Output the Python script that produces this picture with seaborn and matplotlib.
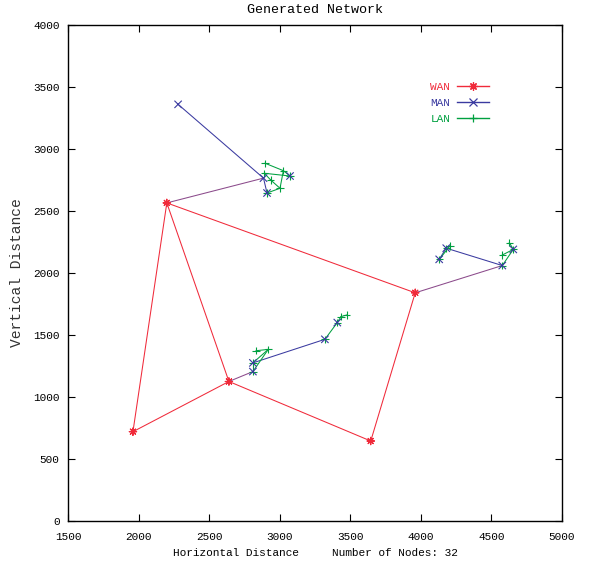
import pandas as pd
import seaborn as sns
import matplotlib
matplotlib.use("Agg")
import matplotlib.pyplot as plt
from matplotlib.lines import Line2D

# node positions
wan_x = [2200, 1960, 2640, 3645, 3960]
wan_y = [2565, 720, 1125, 645, 1840]
wan_edges = [(0, 1), (1, 2), (2, 0), (0, 4), (4, 3), (3, 2)]

man_x = [2280, 2885, 2910, 3073, 4180, 4130, 4577, 4655, 2810, 2810, 3320, 3408]
man_y = [3360, 2765, 2645, 2782, 2200, 2110, 2060, 2190, 1275, 1205, 1465, 1600]
man_edges = [(0, 1), (1, 2), (4, 6), (4, 5), (8, 10), (8, 9)]

# wan node -> man node links (drawn purple)
link_edges = [(0, 1), (4, 6), (2, 9)]

lan_x = [2896, 3026, 2891, 2936, 3002, 3073, 2910,
         4206, 4131, 4180, 4577, 4627, 4655, 4577,
         2832, 2919, 2810, 2810, 3320, 3408, 3434, 3474]
lan_y = [2885, 2825, 2804, 2750, 2683, 2782, 2645,
         2218, 2110, 2200, 2145, 2245, 2190, 2060,
         1373, 1384, 1275, 1205, 1465, 1600, 1648, 1661]
lan_edges = [(0, 1), (1, 4), (1, 5), (2, 5), (2, 3), (3, 4), (4, 6),
             (8, 7), (13, 12), (10, 12), (11, 12),
             (14, 15), (15, 16), (15, 17), (18, 19), (19, 20), (20, 21)]

colors = {"WAN": "#f02a3a", "MAN": "#3a3aa0", "LAN": "#00a040", "link": "#8b4a8b"}

plt.rcParams["font.family"] = ["Liberation Mono", "DejaVu Sans Mono"]
plt.rcParams["font.size"] = 8


def segments(xa, ya, edges, net, xb=None, yb=None):
    xb = xa if xb is None else xb
    yb = ya if yb is None else yb
    rows = []
    for k, (i, j) in enumerate(edges):
        rows.append({"x": xa[i], "y": ya[i], "seg": f"{net}{k}", "net": net})
        rows.append({"x": xb[j], "y": yb[j], "seg": f"{net}{k}", "net": net})
    return rows


seg = pd.DataFrame(segments(wan_x, wan_y, wan_edges, "WAN")
                   + segments(man_x, man_y, man_edges, "MAN")
                   + segments(lan_x, lan_y, lan_edges, "LAN")
                   + segments(wan_x, wan_y, link_edges, "link", man_x, man_y))

nodes = pd.concat([
    pd.DataFrame({"x": lan_x, "y": lan_y, "net": "LAN"}),
    pd.DataFrame({"x": man_x, "y": man_y, "net": "MAN"}),
    pd.DataFrame({"x": wan_x, "y": wan_y, "net": "WAN"}),
])

fig = plt.figure(figsize=(5.9, 5.65), dpi=100)
ax = fig.add_axes([0.1153, 0.0779, 0.8372, 0.8779])

sns.lineplot(data=seg, x="x", y="y", hue="net", units="seg", estimator=None,
             sort=False, palette=colors, lw=0.75, legend=False, ax=ax)

markers = {"WAN": (8, 2, 0), "MAN": "x", "LAN": "+"}
sns.scatterplot(data=nodes, x="x", y="y", hue="net", style="net",
                markers=markers, palette=colors, s=28, linewidth=0.8,
                legend=False, ax=ax, zorder=3)

ax.set_xlim(1500, 5000)
ax.set_ylim(0, 4000)
ax.set_xticks(range(1500, 5001, 500))
ax.set_yticks(range(0, 4001, 500))
ax.tick_params(axis="x", direction="in", top=True, length=5, width=0.8, pad=8)
ax.tick_params(axis="y", direction="in", right=True, length=5, width=0.8, pad=6)
for s in ax.spines.values():
    s.set_linewidth(1.0)

ax.set_title("Generated Network", pad=8.5)
ax.set_xlabel("Horizontal Distance     Number of Nodes: 32", labelpad=4)
ax.set_ylabel("")
fig.text(0.029, 0.517, "Vertical Distance", rotation=90, ha="center",
         va="center", fontsize=10.5, color="#333333")

handles = [Line2D([], [], color=colors[n], lw=1.0, marker=markers[n],
                  markersize=6, markeredgewidth=0.9) for n in ["WAN", "MAN", "LAN"]]
ax.legend(handles, ["WAN", "MAN", "LAN"], loc="upper right",
          bbox_to_anchor=(0.829, 0.855), bbox_transform=fig.transFigure,
          markerfirst=False, frameon=False, handlelength=2.9, handletextpad=0.6,
          labelspacing=0.56, borderpad=0, borderaxespad=0, labelcolor="linecolor")

fig.savefig("out.png", dpi=100)
